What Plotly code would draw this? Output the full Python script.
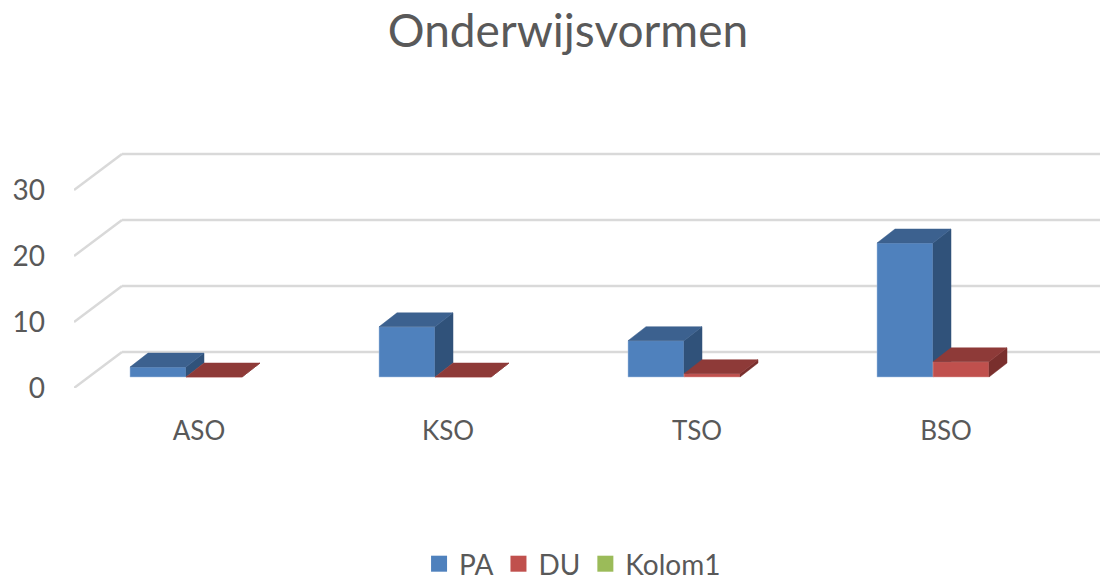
import plotly.graph_objects as go

categories = ["ASO", "KSO", "TSO", "BSO"]
pa_values = [1.5, 7.6, 5.5, 20.3]
du_values = [0, 0, 0.5, 2.3]
tick_values = [0, 10, 20, 30]
legend_names = ["PA", "DU", "Kolom1"]

# projection constants of the pseudo-3D look
PX_X = 249.0            # pixels per category
PX_Y = 6.6              # pixels per value unit
BAR_W = 56 / PX_X
BASE = 11 / PX_Y        # bars stand forward of the floor's front edge
DEPTH_X, DEPTH_Y = 18 / PX_X, 14 / PX_Y
WALL_X, WALL_Y = 48 / PX_X, 36 / PX_Y
X_MIN, X_MAX = (74 - 186) / PX_X, (1100 - 186) / PX_X
Y_MAX = (388 - 130) / PX_Y
FONT = "Lato"
TXT = "#595959"
positions = list(range(len(categories)))

fig = go.Figure()


def poly(values, x_off, kind):
    xs, ys = [], []
    for p, v in zip(positions, values):
        x0, x1 = p + x_off, p + x_off + BAR_W
        t = BASE + v
        if kind == "top":
            px = [x0, x1, x1 + DEPTH_X, x0 + DEPTH_X, x0]
            py = [t, t, t + DEPTH_Y, t + DEPTH_Y, t]
        else:
            px = [x1, x1 + DEPTH_X, x1 + DEPTH_X, x1, x1]
            py = [BASE, BASE + DEPTH_Y, t + DEPTH_Y, t, BASE]
        xs += px + [None]
        ys += py + [None]
    return xs, ys


# each series sits on its own overlaid axis pair so DU paints over PA's side face
series = [
    ("PA", pa_values, -BAR_W, "#4f81bd", "#3c618f", "#30527a", "#a9c1e0", "x", "y"),
    ("DU", du_values, 0, "#c0504d", "#8e3a38", "#792f2d", "#e0a09e", "x2", "y2"),
]

for name, vals, off, front, top, side, edge, xa, ya in series:
    fig.add_bar(x=positions, y=vals, base=BASE, name=name, showlegend=False,
                width=BAR_W, offset=off, xaxis=xa, yaxis=ya,
                marker=dict(color=front, line=dict(color=edge, width=0.5)), hoverinfo="skip")
    for kind, col in (("side", side), ("top", top)):
        xs, ys = poly(vals, off, kind)
        fig.add_scatter(x=xs, y=ys, mode="lines", fill="toself", fillcolor=col,
                        xaxis=xa, yaxis=ya,
                        line=dict(color=col, width=0.5), showlegend=False, hoverinfo="skip")

for name, col in zip(legend_names, ["#4f81bd", "#c0504d", "#9bbb59"]):
    fig.add_scatter(x=[None], y=[None], mode="markers", name=name,
                    marker=dict(symbol="square", size=20, color=col))

shapes = []
for v in tick_values:
    grid = dict(type="line", xref="x", yref="y", layer="below",
                line=dict(color="#d9d9d9", width=2.5))
    shapes.append(dict(grid, x0=X_MIN, y0=v, x1=X_MIN + WALL_X, y1=v + WALL_Y))
    shapes.append(dict(grid, x0=X_MIN + WALL_X, y0=v + WALL_Y, x1=X_MAX, y1=v + WALL_Y))

W, H = 1101, 581
fig.update_layout(
    width=W, height=H, autosize=False,
    margin=dict(l=74, r=1, t=130, b=193, autoexpand=False),
    paper_bgcolor="white", plot_bgcolor="white",
    barmode="overlay",
    shapes=shapes,
    font=dict(family=FONT, color=TXT, size=26),
    title=dict(text="Onderwijsvormen", x=568 / W, xanchor="center",
               y=1 - 31 / H, yanchor="middle", font=dict(size=46, family=FONT, color=TXT)),
    xaxis=dict(range=[X_MIN, X_MAX], tickmode="array",
               tickvals=[p + 13 / PX_X for p in positions], ticktext=categories,
               showgrid=False, zeroline=False, showline=False, ticks="",
               ticklabelstandoff=25, tickfont=dict(size=26), automargin=False),
    yaxis=dict(range=[0, Y_MAX], tickmode="array", tickvals=tick_values,
               showgrid=False, zeroline=False, showline=False, ticks="",
               ticklabelstandoff=28, tickfont=dict(size=28), automargin=False),
    xaxis2=dict(range=[X_MIN, X_MAX], overlaying="x", visible=False),
    yaxis2=dict(range=[0, Y_MAX], overlaying="y", visible=False),
    legend=dict(orientation="h", x=535 / W, xanchor="center",
                y=(388 - 564) / 258, yanchor="middle",
                font=dict(size=28), itemsizing="trace",
                bgcolor="rgba(0,0,0,0)"),
)

fig.write_html("out.html", config=dict(displayModeBar=False),
               post_script="document.body.style.margin='0';"
                           "document.documentElement.style.overflow='hidden';")
